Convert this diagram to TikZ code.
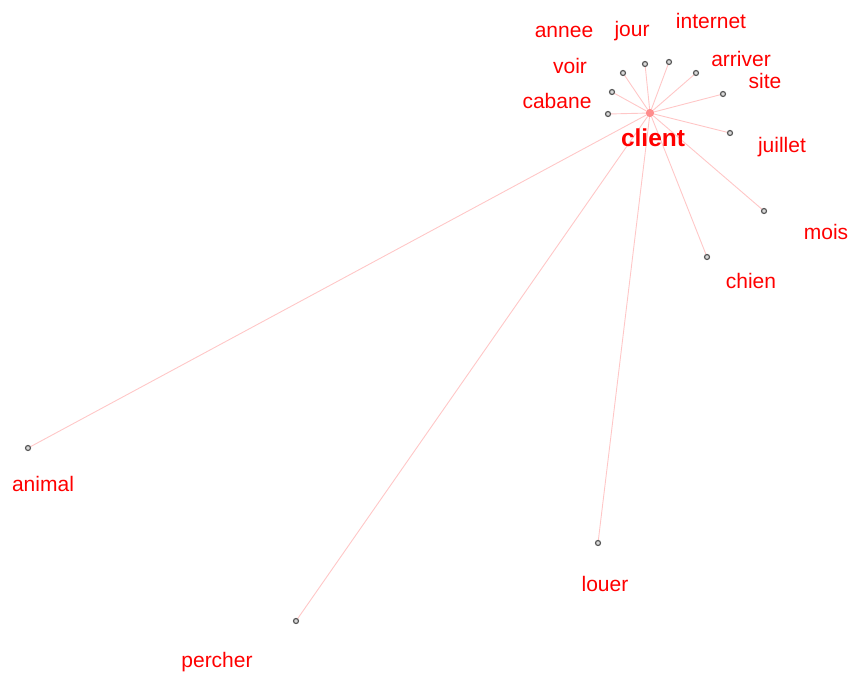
\documentclass[tikz,border=0pt]{standalone}
\usepackage{fontspec}
\setmainfont{Liberation Sans}
\begin{document}
\begin{tikzpicture}[x=1pt,y=-1pt,
  dot/.style={circle,draw=gray!70!black,fill=gray!30,line width=1.2pt,inner sep=0pt,minimum size=5pt},
  hub/.style={circle,fill=red!45,inner sep=0pt,minimum size=8pt},
  lbl/.style={text=red,font=\fontsize{21}{24}\selectfont,inner sep=0pt},
  edge/.style={draw=red!22,line width=0.9pt}]
\useasboundingbox (0,0) rectangle (853,673);
\node[hub] (c) at (650,113) {};
\foreach \n/\x/\y in {cabane/608/114,voir/612/92,annee/623/73,jour/645/64,internet/669/62,arriver/696/73,site/723/94,juillet/730/133,mois/764/211,chien/707/257,animal/28/448,louer/598/543,percher/296/621}{
  \draw[edge] (c) -- (\x,\y);
}
\foreach \n/\x/\y in {cabane/608/114,voir/612/92,annee/623/73,jour/645/64,internet/669/62,arriver/696/73,site/723/94,juillet/730/133,mois/764/211,chien/707/257,animal/28/448,louer/598/543,percher/296/621}{
  \node[dot] (d\n) at (\x,\y) {};
}
\node[hub] at (650,113) {};
\foreach \n/\x/\y in {annee/564/32,jour/632/31,internet/711/21,arriver/741/59,site/765/81,voir/570/66,cabane/557/101,juillet/782/147,mois/826/232,chien/751/281,animal/43/484,louer/605/584,percher/217/662}{
  \node[lbl] (l\n) at (\x,\y) {\n};
}
\node[text=red,font=\fontsize{24.5}{26}\selectfont\bfseries,inner sep=0pt] (lclient) at (653,138) {client};
\end{tikzpicture}
\end{document}
